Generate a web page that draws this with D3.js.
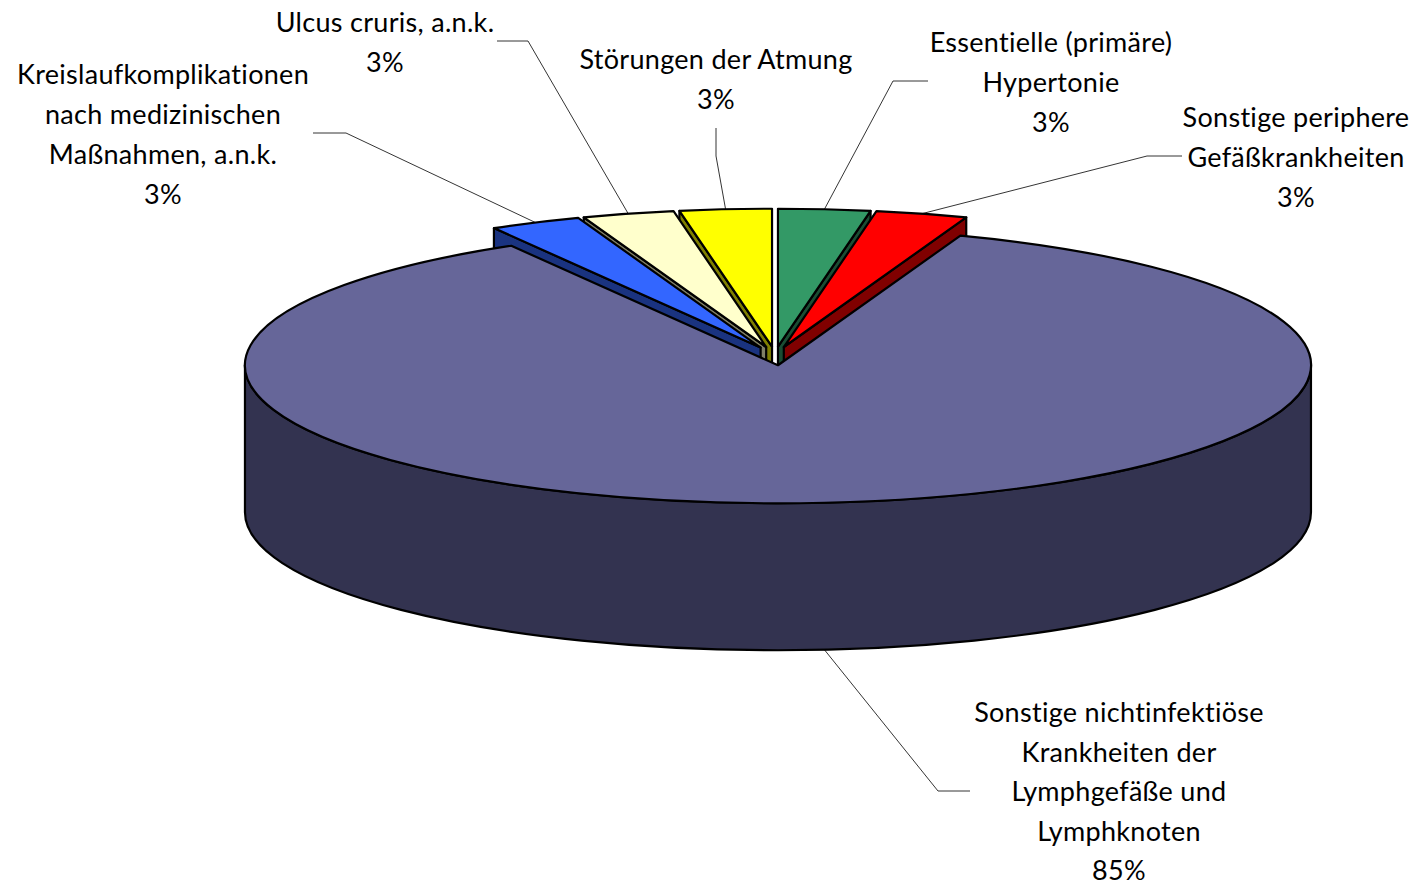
<!DOCTYPE html>
<html>
<head>
<meta charset="utf-8">
<script src="https://cdn.jsdelivr.net/npm/d3@7"></script>
<style>
  html, body { margin: 0; padding: 0; background: #fff; }
  svg { display: block; }
  .slice { stroke: #000; stroke-width: 2.2; stroke-linejoin: round; }
  .leader { fill: none; stroke: #000; stroke-width: 0.8; }
  .label { font-family: Lato, sans-serif; font-size: 27px; fill: #000; text-anchor: middle; letter-spacing: 0.3px; }
</style>
</head>
<body>
<div id="chart"></div>
<script>
// Slices clockwise from 12 o'clock
const categories = [
    ['Essentielle (primäre)', 'Hypertonie'],
    ['Sonstige periphere', 'Gefäßkrankheiten'],
    ['Sonstige nichtinfektiöse', 'Krankheiten der', 'Lymphgefäße und', 'Lymphknoten'],
    ['Kreislaufkomplikationen', 'nach medizinischen', 'Maßnahmen, a.n.k.'],
    ['Ulcus cruris, a.n.k.'],
    ['Störungen der Atmung']
];
const values = [2.78, 2.78, 86.1, 2.78, 2.78, 2.78];
const percentLabels = ['3%', '3%', '85%', '3%', '3%', '3%'];
const topColors = ['#339966', '#ff0000', '#666699', '#3366ff', '#ffffcc', '#ffff00'];
const wallColors = ['#1a4d33', '#800000', '#333350', '#1a3380', '#808066', '#808000'];
// x of label centre, y of first line baseline, line spacing
const labelX = [1051, 1296, 1119, 163, 385, 716];
const labelY = [52, 127, 722, 84, 32, 69];
const lineSteps = [39.9, 39.9, 39.5, 39.9, 39.9, 39.9];
// leader polylines: free end, elbow, angle on the rim (deg)
const leaderEnds = [[928, 81], [1182, 156], [970, 791], [313, 133], [497, 41], [716, 128]];
const leaderElbows = [[893, 81], [1147, 156], [938, 791], [346, 133], [528, 41], [716, 156]];
const leaderAngles = [5, 15, 175, -25, -15, -5];

const width = 1416, height = 885;
const rx = 533, ry = 138, depth = 147;
const pieCx = 775, pieCy = 356;  // centre before the slices are pulled apart
const explodeX = 34, explodeY = 9.3;

const svg = d3.select('#chart').append('svg')
    .attr('width', width)
    .attr('height', height);

const pie = d3.pie().sort(null).value(d => d).startAngle(0).endAngle(2 * Math.PI);
const arcs = pie(values);

// Project an angle on the tilted disc
function rim(cx, cy, a) {
    return [cx + rx * Math.sin(a), cy - ry * Math.cos(a)];
}

const slices = arcs.map((d, i) => {
    const mid = (d.startAngle + d.endAngle) / 2;
    const cx = pieCx + explodeX * Math.sin(mid);
    const cy = pieCy - explodeY * Math.cos(mid);
    return { i, a0: d.startAngle, a1: d.endAngle, mid, cx, cy };
});

function topPath(s) {
    const p0 = rim(s.cx, s.cy, s.a0), p1 = rim(s.cx, s.cy, s.a1);
    const large = s.a1 - s.a0 > Math.PI ? 1 : 0;
    return `M${s.cx},${s.cy}L${p0}A${rx},${ry} 0 ${large} 1 ${p1}Z`;
}

// Radial wall on the side of the slice that faces the viewer
function radialWall(s, a) {
    const p = rim(s.cx, s.cy, a);
    return `M${s.cx},${s.cy}L${p}L${p[0]},${p[1] + depth}L${s.cx},${s.cy + depth}Z`;
}

// Outer wall of the front half of the big slice
function frontWall(s) {
    const l = rim(s.cx, s.cy, -Math.PI / 2), r = rim(s.cx, s.cy, Math.PI / 2);
    return `M${l}A${rx},${ry} 0 0 0 ${r}L${r[0]},${r[1] + depth}A${rx},${ry} 0 0 1 ${l[0]},${l[1] + depth}Z`;
}

// Paint from back to front: big slice last so it hides the small ones' walls
const drawOrder = [5, 4, 3, 0, 1, 2];
const g = svg.append('g');
drawOrder.forEach(i => {
    const s = slices[i];
    if (i === 2) {
        g.append('path').attr('class', 'slice').attr('d', frontWall(s)).attr('fill', wallColors[i]);
    } else {
        const wallAngle = s.mid < Math.PI ? s.a1 : s.a0;
        g.append('path').attr('class', 'slice').attr('d', radialWall(s, wallAngle)).attr('fill', wallColors[i]);
    }
    g.append('path').attr('class', 'slice').attr('d', topPath(s)).attr('fill', topColors[i]);
});

// Leader lines
const leaderLine = d3.line();
categories.forEach((c, i) => {
    const s = slices[i];
    const a = leaderAngles[i] * Math.PI / 180;
    let p = rim(s.cx, s.cy, a);
    if (i === 2) p = [p[0], p[1] + depth];
    svg.append('path').attr('class', 'leader')
        .attr('d', leaderLine([p, leaderElbows[i], leaderEnds[i]]));
});

// Labels
categories.forEach((lines, i) => {
    const t = svg.append('text').attr('class', 'label');
    lines.concat(percentLabels[i]).forEach((line, k) => {
        t.append('tspan')
            .attr('x', labelX[i])
            .attr('y', labelY[i] + k * lineSteps[i])
            .text(line);
    });
});
</script>
</body>
</html>
